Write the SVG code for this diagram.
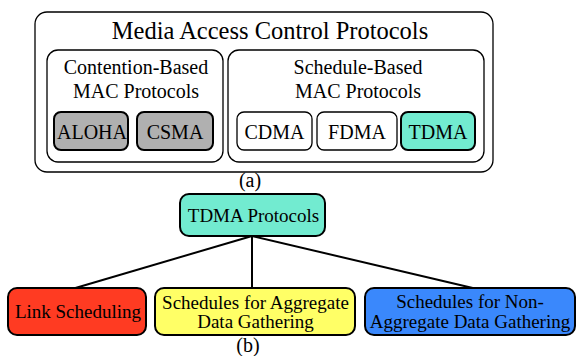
<svg xmlns="http://www.w3.org/2000/svg" width="576" height="356" viewBox="0 0 576 356">
<style>
text{font-family:"Liberation Serif","Times New Roman",serif;fill:#000;text-anchor:middle}
.t1{font-size:24.5px}
.t2{font-size:20px}
.t3{font-size:19px}
.frame{fill:#fff;stroke:#000;stroke-width:1.3}
.thick{stroke:#000;stroke-width:2}
.conn{stroke:#000;stroke-width:2;fill:none}
</style>
<rect width="576" height="356" fill="#fff"/>
<g id="mac">
<rect class="frame" x="35" y="12" width="458" height="160" rx="12"/>
<text class="t1" x="270" y="39">Media Access Control Protocols</text>
</g>
<g id="contention">
<rect class="frame" x="47" y="50" width="176" height="112" rx="11"/>
<text class="t2" x="136" y="74">Contention-Based</text>
<text class="t2" x="136" y="98">MAC Protocols</text>
</g>
<g id="schedule">
<rect class="frame" x="228" y="50" width="256" height="112" rx="11"/>
<text class="t2" x="358" y="74">Schedule-Based</text>
<text class="t2" x="358" y="98">MAC Protocols</text>
</g>
<g id="aloha">
<rect class="thick" fill="#b0b0b0" x="54" y="112" width="74" height="38" rx="7"/>
<text class="t2" x="92" y="139">ALOHA</text>
</g>
<g id="csma">
<rect class="thick" fill="#b0b0b0" x="137" y="112" width="76" height="38" rx="7"/>
<text class="t2" x="175" y="139">CSMA</text>
</g>
<g id="cdma">
<rect class="frame" x="237" y="112" width="75" height="38" rx="7"/>
<text class="t2" x="274.5" y="139">CDMA</text>
</g>
<g id="fdma">
<rect class="frame" x="317" y="112" width="80" height="38" rx="7"/>
<text class="t2" x="357" y="139">FDMA</text>
</g>
<g id="tdma">
<rect class="thick" fill="#72ebd0" x="401" y="112" width="74" height="38" rx="7"/>
<text class="t2" x="438" y="139">TDMA</text>
</g>
<text class="t2" x="250" y="187">(a)</text>
<g id="connectors">
<line class="conn" x1="252" y1="236" x2="72" y2="289"/>
<line class="conn" x1="252" y1="236" x2="252" y2="289"/>
<line class="conn" x1="252" y1="236" x2="477" y2="289"/>
</g>
<g id="tdma-protocols">
<rect class="thick" fill="#72ebd0" x="180" y="194" width="145" height="42" rx="9"/>
<text class="t3" x="253.5" y="222">TDMA Protocols</text>
</g>
<g id="link">
<rect class="thick" fill="#ff3b22" x="8" y="288" width="138" height="47" rx="9"/>
<text class="t3" x="78" y="318">Link Scheduling</text>
</g>
<g id="aggregate">
<rect class="thick" fill="#ffff66" x="155" y="288" width="200" height="47" rx="9"/>
<text class="t3" x="255.5" y="309">Schedules for Aggregate</text>
<text class="t3" x="255.5" y="328">Data Gathering</text>
</g>
<g id="nonaggregate">
<rect class="thick" fill="#3a88fc" x="365" y="288" width="210" height="47" rx="9"/>
<text class="t3" x="470" y="308">Schedules for Non-</text>
<text class="t3" x="470" y="328">Aggregate Data Gathering</text>
</g>
<text class="t2" x="248" y="352">(b)</text>
</svg>
